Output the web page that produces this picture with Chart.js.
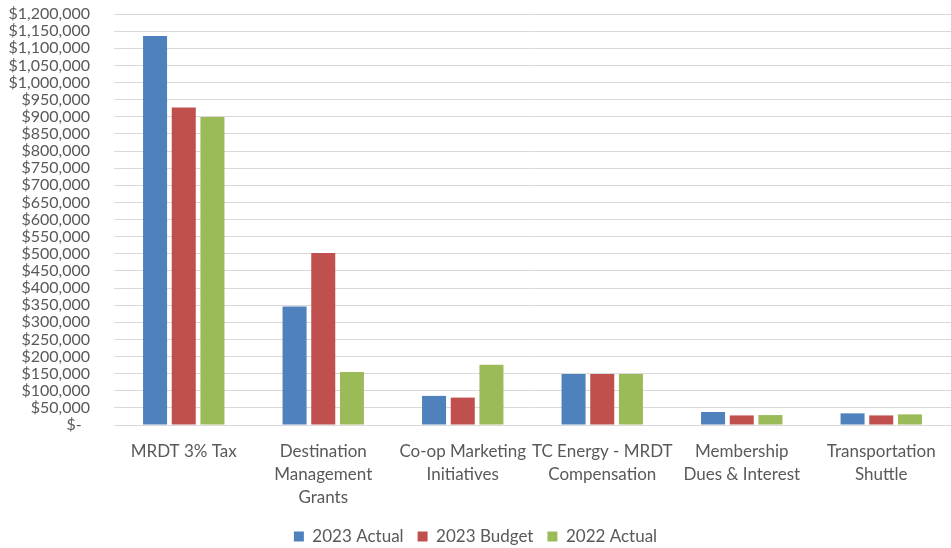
<!DOCTYPE html>
<html>
<head>
<meta charset="utf-8">
<script src="https://cdn.jsdelivr.net/npm/chart.js@4"></script>
<style>
  html, body { margin: 0; padding: 0; background: #fff; }
  #wrap { width: 951px; height: 548px; position: relative; }
</style>
</head>
<body>
<div id="wrap"><canvas id="chart"></canvas></div>
<script>
// ——— DATA ———
const categories = [
    ['MRDT 3% Tax'],
    ['Destination', 'Management', 'Grants'],
    ['Co-op Marketing', 'Initiatives'],
    ['TC Energy - MRDT', 'Compensation'],
    ['Membership', 'Dues & Interest'],
    ['Transportation', 'Shuttle']
];
const actual2023 = [1136000, 346000, 85000, 149000, 38000, 34000];
const budget2023 = [927000, 502000, 80000, 149000, 28000, 28000];
const actual2022 = [899000, 155000, 176000, 149000, 29000, 31000];
const seriesNames = ['2023 Actual', '2023 Budget', '2022 Actual'];
const yMax = 1200000;
const yStep = 50000;

// ——— CHART ———
const textColor = '#595959';
const fontFamily = 'Lato, "Open Sans", sans-serif';

const ctx = document.getElementById('chart').getContext('2d');
new Chart(ctx, {
    type: 'bar',
    data: {
        labels: categories,
        datasets: [
            { label: seriesNames[0], data: actual2023, backgroundColor: '#4F81BD' },
            { label: seriesNames[1], data: budget2023, backgroundColor: '#C0504D' },
            { label: seriesNames[2], data: actual2022, backgroundColor: '#9BBB59' }
        ]
    },
    options: {
        responsive: true,
        maintainAspectRatio: false,
        animation: false,
        categoryPercentage: 0.617,
        barPercentage: 0.837,
        layout: { padding: { top: 0, left: 0, right: 0, bottom: -7 } },
        plugins: {
            tooltip: { enabled: false },
            legend: {
                position: 'bottom',
                labels: {
                    color: textColor,
                    font: { family: fontFamily, size: 17 },
                    boxWidth: 10,
                    boxHeight: 10,
                    padding: 14
                }
            }
        },
        scales: {
            x: {
                grid: { display: false },
                border: { color: '#d9d9d9' },
                afterFit: scale => { scale.height = 89; },
                ticks: {
                    color: textColor,
                    font: { family: fontFamily, size: 17, lineHeight: 1.35 },
                    maxRotation: 0,
                    autoSkip: false,
                    padding: 7
                }
            },
            y: {
                min: 0,
                max: yMax,
                afterFit: scale => {
                    scale.width = 114;
                    // keep the label gap from pushing the plot down
                    scale.paddingTop = 14;
                    scale.paddingBottom = 8;
                },
                grid: { color: '#d9d9d9', drawTicks: false },
                border: { display: false },
                ticks: {
                    stepSize: yStep,
                    autoSkip: false,
                    color: textColor,
                    padding: 24,
                    font: { family: fontFamily, size: 16, lineHeight: 1 },
                    callback: v => v === 0 ? '$-  ' : '$' + v.toLocaleString('en-US')
                }
            }
        }
    }
});
</script>
</body>
</html>
